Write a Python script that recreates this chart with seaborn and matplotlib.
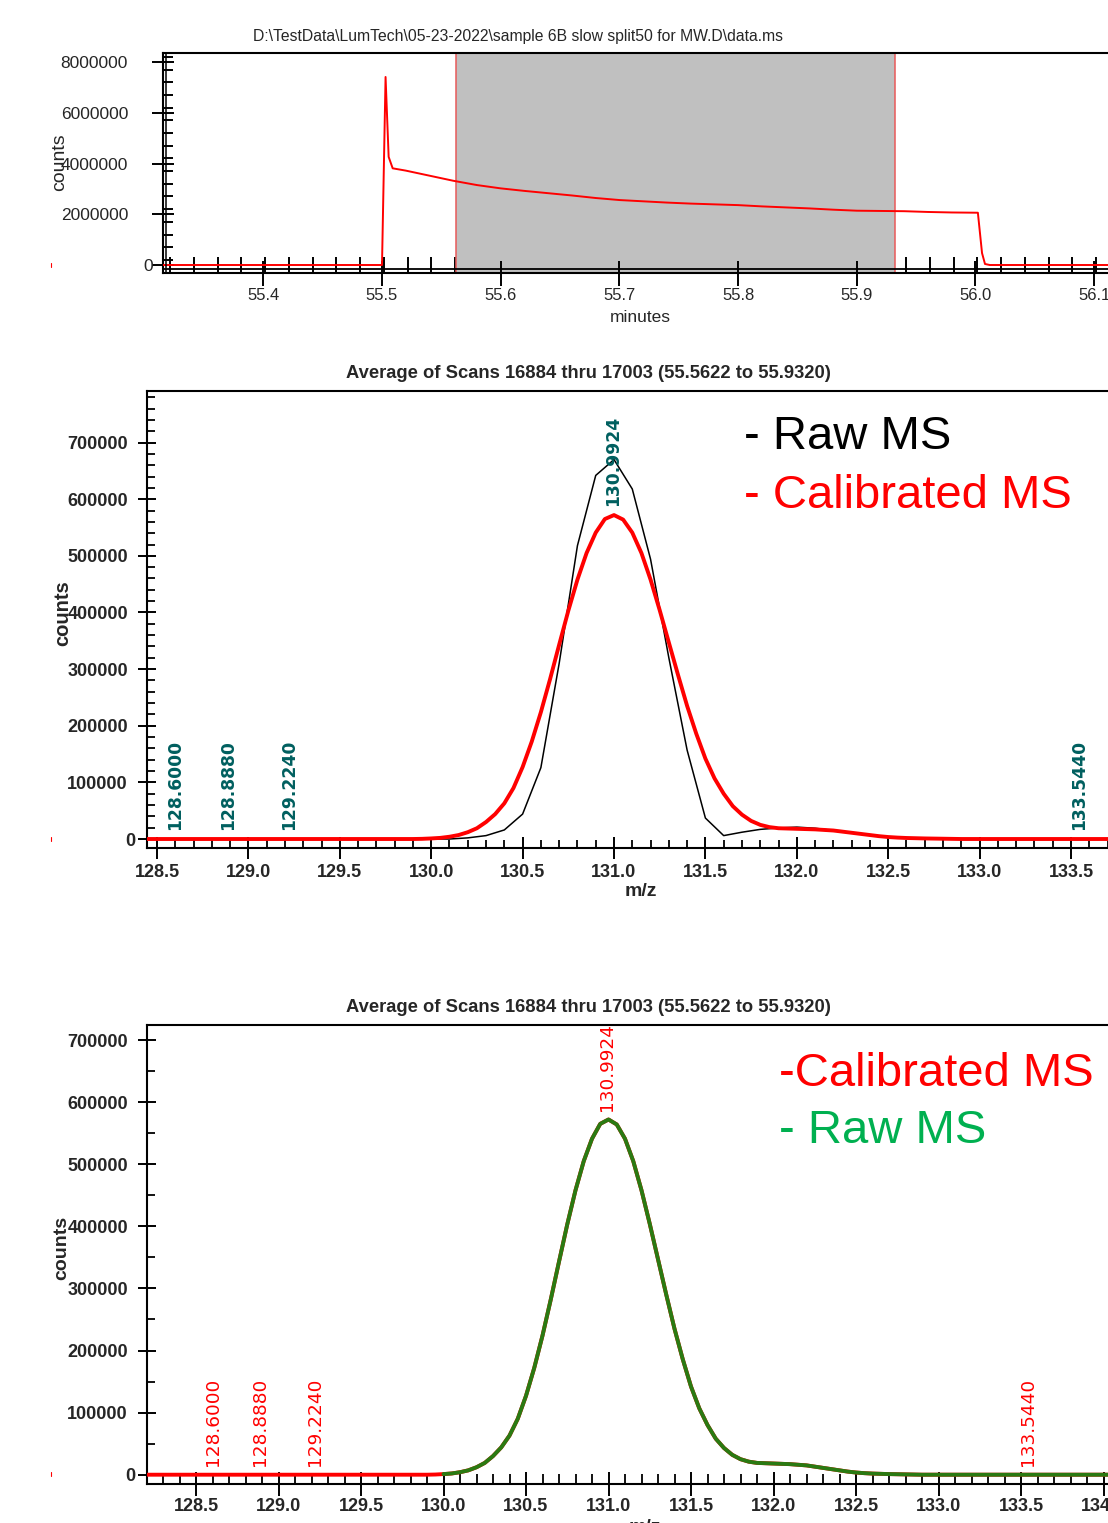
import matplotlib
matplotlib.use("Agg")
import numpy as np
import pandas as pd
import matplotlib.pyplot as plt
import seaborn as sns
from matplotlib.ticker import FixedLocator, MultipleLocator
from matplotlib.lines import Line2D
from matplotlib.transforms import ScaledTranslation

# ---- data ----
tic_title = r"D:\TestData\LumTech\05-23-2022\sample 6B slow split50 for MW.D\data.ms"
scan_title = "Average of Scans 16884 thru 17003 (55.5622 to 55.9320)"
scan_start, scan_end = 55.5622, 55.9320

# total ion chromatogram (minutes, counts)
tic_time = [55.30, 55.500, 55.503, 55.5056, 55.509, 55.52, 55.54, 55.56, 55.58, 55.60,
            55.62, 55.64, 55.66, 55.68, 55.70, 55.72, 55.74, 55.76, 55.78, 55.80,
            55.82, 55.84, 55.86, 55.88, 55.90, 55.92, 55.94, 55.96, 55.98, 56.002,
            56.0055, 56.008, 56.012, 56.13]
tic_counts = [0, 0, 7.41e6, 4.26e6, 3.81e6, 3.72e6, 3.52e6, 3.32e6, 3.15e6, 3.02e6,
              2.92e6, 2.83e6, 2.74e6, 2.64e6, 2.56e6, 2.51e6, 2.46e6, 2.42e6, 2.39e6, 2.36e6,
              2.31e6, 2.27e6, 2.23e6, 2.18e6, 2.14e6, 2.13e6, 2.12e6, 2.09e6, 2.07e6, 2.06e6,
              0.47e6, 0.04e6, 0, 0]
time_ticks = [55.4, 55.5, 55.6, 55.7, 55.8, 55.9, 56.0, 56.1]
time_labels = ["55.4", "55.5", "55.6", "55.7", "55.8", "55.9", "56.0", "56.1"]
tic_ticks = [0, 2e6, 4e6, 6e6, 8e6]
tic_labels = ["0", "2000000", "4000000", "6000000", "8000000"]

# raw spectrum (m/z, counts)
raw_mz = [128.4, 130.1, 130.2, 130.3, 130.4, 130.5, 130.6, 130.7, 130.8, 130.9,
          131.0, 131.1, 131.2, 131.3, 131.4, 131.5, 131.6, 131.7, 131.8, 131.9,
          132.0, 132.1, 132.2, 132.3, 132.4, 132.5, 132.6, 132.7, 132.8, 133.8]
raw_counts = [0, 0, 2000, 6000, 16000, 44000, 126000, 310000, 518000, 642000,
              670000, 618000, 494000, 320000, 157000, 37000, 6000, 12000, 17000, 19500,
              21000, 19000, 15000, 11000, 7000, 3500, 1800, 1000, 500, 0]

# calibrated spectrum (m/z, counts)
cal_mz = [128.2, 129.90, 129.95, 130.00, 130.05, 130.10, 130.15, 130.20, 130.25, 130.30,
          130.35, 130.40, 130.45, 130.50, 130.55, 130.60, 130.65, 130.70, 130.75, 130.80,
          130.85, 130.90, 130.95, 131.00, 131.05, 131.10, 131.15, 131.20, 131.25, 131.30,
          131.35, 131.40, 131.45, 131.50, 131.55, 131.60, 131.65, 131.70, 131.75, 131.80,
          131.85, 131.90, 131.95, 132.00, 132.05, 132.10, 132.15, 132.20, 132.25, 132.30,
          132.35, 132.40, 132.45, 132.50, 132.55, 132.60, 132.70, 132.80, 132.90, 134.2]
cal_counts = [0, 0, 300, 1000, 2000, 4000, 7000, 12000, 19000, 30000,
              44000, 63000, 90000, 127000, 172000, 224000, 282000, 343000, 403000, 458000,
              505000, 541000, 565000, 572000, 564000, 541000, 505000, 458000, 404000, 347000,
              290000, 235000, 186000, 142000, 107000, 80000, 58000, 43000, 32000, 25000,
              21000, 19000, 18500, 18000, 17500, 17000, 16000, 15000, 13000, 11000,
              9000, 7000, 5000, 3500, 2500, 1800, 1000, 500, 0, 0]
green_start = 130.0

peak_mz = [128.6000, 128.8880, 129.2240, 130.9924, 133.5440]
peak_counts = [0, 0, 0, 572000, 0]
peak_labels = ["128.6000", "128.8880", "129.2240", "130.9924", "133.5440"]

ms_ticks = [128.5, 129.0, 129.5, 130.0, 130.5, 131.0, 131.5, 132.0, 132.5, 133.0, 133.5]
ms_labels = ["128.5", "129.0", "129.5", "130.0", "130.5", "131.0", "131.5", "132.0",
             "132.5", "133.0", "133.5"]
ms_ticks3 = ms_ticks + [134.0]
ms_labels3 = ms_labels + ["134.0"]
cnt_ticks = [0, 100000, 200000, 300000, 400000, 500000, 600000, 700000]
cnt_labels = ["0", "100000", "200000", "300000", "400000", "500000", "600000", "700000"]

# ---- styling ----
sns.set_theme(style="ticks")
plt.rcParams["font.family"] = ["Liberation Sans", "DejaVu Sans"]
ARIAL = ["Liberation Sans", "DejaVu Sans"]
TEAL = "#005f5f"
W, H = 1108, 1523
PT = 72 / 100  # points per pixel at dpi 100

fig = plt.figure(figsize=(W / 100, H / 100), dpi=100)
fig.patch.set_facecolor("white")


def place(left, top, right, bottom):
    ax = fig.add_axes([left / W, 1 - bottom / H, (right - left) / W, (bottom - top) / H])
    ax.set_facecolor("white")
    for s in ["left", "bottom", "top"]:
        ax.spines[s].set_color("black")
        ax.spines[s].set_linewidth(1.5)
    ax.spines["right"].set_visible(False)
    return ax


def nudge_zero(ax, dx_px):
    lab = ax.get_yticklabels()[0]
    lab.set_transform(lab.get_transform() + ScaledTranslation(dx_px / 100, 0, fig.dpi_scale_trans))


# ---------- panel 1 : TIC ----------
ax1 = place(163, 53, 1110, 273)
ax1.set_xlim(55.5 + (163 - 382) / 1187, 55.5 + (1110 - 382) / 1187)
ax1.set_ylim((265 - 273) / 25.375 * 1e6, (265 - 53) / 25.375 * 1e6)
ax1.axvspan(scan_start, scan_end, color="#c0c0c0", lw=0, zorder=0)
ax1.axvline(scan_start, color="#e85a5a", lw=1.1, zorder=1)
ax1.axvline(scan_end, color="#e85a5a", lw=1.1, zorder=1)
sns.lineplot(x=tic_time, y=tic_counts, color="red", lw=1.4, ax=ax1, zorder=3)
ax1.axhline((265 - 269) / 25.375 * 1e6, color="black", lw=1.3, zorder=4)
ax1.axvline(55.5 + (166.5 - 382) / 1187, color="black", lw=1.1, zorder=4)

ax1.set_xticks(time_ticks, labels=time_labels, fontsize=12)
ax1.set_yticks(tic_ticks, labels=tic_labels, fontsize=12.5)
minor_t = [t for t in np.arange(55.3015, 56.12, 0.02) if not (scan_start <= t <= scan_end)]
ax1.xaxis.set_minor_locator(FixedLocator(minor_t))
ax1.yaxis.set_minor_locator(FixedLocator(np.arange(0.2e6, 8.3e6, 0.5e6)))
ax1.tick_params(axis="x", which="major", direction="inout", length=25 * PT, width=1.4,
                pad=3 * PT, color="black", bottom=True)
ax1.tick_params(axis="x", which="minor", direction="in", length=16 * PT, width=1.4,
                color="black", bottom=True)
ax1.tick_params(axis="y", which="major", direction="inout", length=22 * PT, width=1.4,
                pad=24 * PT, color="black", left=True)
ax1.tick_params(axis="y", which="minor", direction="in", length=10 * PT, width=1.4,
                color="black", left=True)
ax1.set_xlabel("")
ax1.set_ylabel("")
nudge_zero(ax1, 25)

fig.text(518 / W, 1 - 36 / H, tic_title, ha="center", va="center", fontsize=11.3)
fig.text(60 / W, 1 - 162 / H, "counts", rotation=90, ha="center", va="center", fontsize=14)
fig.text(640 / W, 1 - 317 / H, "minutes", ha="center", va="center", fontsize=12.5)


# ---------- panel 2 : raw vs calibrated ----------
ax2 = place(147, 391, 1110, 848)
ax2.set_xlim(128.5 + (147 - 157) / 182.8, 128.5 + (1110 - 157) / 182.8)
ax2.set_ylim((839.3 - 848.3) / 0.0005667, (839.3 - 391) / 0.0005667)
sns.lineplot(x=raw_mz, y=raw_counts, color="black", lw=1.1, ax=ax2, zorder=3)
sns.lineplot(x=cal_mz, y=cal_counts, color="red", lw=2.8, ax=ax2, zorder=4)
for xm, ym, lab in zip(peak_mz, peak_counts, peak_labels):
    ax2.annotate(lab, xy=(xm, ym), xytext=(0, 6.5), textcoords="offset points", rotation=90,
                 ha="center", va="bottom", color=TEAL, fontsize=12.3, fontweight="bold",
                 family="DejaVu Sans", zorder=5)

ax2.set_xticks(ms_ticks, labels=ms_labels, fontsize=13, fontweight="bold", family=ARIAL)
ax2.set_yticks(cnt_ticks, labels=cnt_labels, fontsize=13, fontweight="bold", family=ARIAL)
ax2.xaxis.set_minor_locator(MultipleLocator(0.1))
ax2.yaxis.set_minor_locator(MultipleLocator(20000))
ax2.tick_params(axis="x", which="major", direction="inout", length=22 * PT, width=1.4,
                pad=5 * PT, color="black", bottom=True)
ax2.tick_params(axis="x", which="minor", direction="in", length=8 * PT, width=1.3,
                color="black", bottom=True)
ax2.tick_params(axis="y", which="major", direction="inout", length=18 * PT, width=1.4,
                pad=10 * PT, color="black", left=True)
ax2.tick_params(axis="y", which="minor", direction="in", length=8 * PT, width=1.3,
                color="black", left=True)
ax2.set_xlabel("")
ax2.set_ylabel("")
nudge_zero(ax2, 7)

fig.text(588 / W, 1 - 374 / H, scan_title, ha="center", va="center", fontsize=13.2,
         fontweight="bold")
fig.text(63 / W, 1 - 613 / H, "counts", rotation=90, ha="center", va="center",
         fontsize=14.5, fontweight="bold")
fig.text(641 / W, 1 - 892 / H, "m/z", ha="center", va="center", fontsize=14, fontweight="bold")
fig.text(744 / W, 1 - 449 / H, "- Raw MS", ha="left", va="baseline", fontsize=34, color="black")
fig.text(744 / W, 1 - 508 / H, "- Calibrated MS", ha="left", va="baseline", fontsize=34,
         color="red")


# ---------- panel 3 : calibrated vs raw overlay ----------
ax3 = place(147, 1025, 1110, 1484)
ax3.set_xlim(128.5 + (147 - 196) / 165, 128.5 + (1110 - 196) / 165)
ax3.set_ylim((1475 - 1484.3) / 0.0006214, (1475 - 1025) / 0.0006214)
green = pd.DataFrame({"mz": cal_mz, "counts": cal_counts})
green = green[green["mz"] >= green_start]
sns.lineplot(x=cal_mz, y=cal_counts, color="red", lw=2.8, ax=ax3, zorder=3)
sns.lineplot(data=green, x="mz", y="counts", color="#2a7a12", lw=2.8, ax=ax3, zorder=4)
for xm, ym, lab in zip(peak_mz, peak_counts, peak_labels):
    ax3.annotate(lab, xy=(xm, ym), xytext=(0, 6), textcoords="offset points", rotation=90,
                 ha="center", va="bottom", color="red", fontsize=13.3,
                 family="DejaVu Sans", zorder=5)

ax3.set_xticks(ms_ticks3, labels=ms_labels3, fontsize=13, fontweight="bold", family=ARIAL)
ax3.set_yticks(cnt_ticks, labels=cnt_labels, fontsize=13, fontweight="bold", family=ARIAL)
ax3.xaxis.set_minor_locator(MultipleLocator(0.1))
ax3.yaxis.set_minor_locator(MultipleLocator(50000))
ax3.tick_params(axis="x", which="major", direction="inout", length=24 * PT, width=1.4,
                pad=2 * PT, color="black", bottom=True)
ax3.tick_params(axis="x", which="minor", direction="in", length=10 * PT, width=1.3,
                color="black", bottom=True)
ax3.tick_params(axis="y", which="major", direction="inout", length=18 * PT, width=1.4,
                pad=10 * PT, color="black", left=True)
ax3.tick_params(axis="y", which="minor", direction="in", length=8 * PT, width=1.3,
                color="black", left=True)
ax3.set_xlabel("")
ax3.set_ylabel("")
nudge_zero(ax3, 7)

fig.text(588 / W, 1 - 1008 / H, scan_title, ha="center", va="center", fontsize=13.2,
         fontweight="bold")
fig.text(62 / W, 1 - 1248 / H, "counts", rotation=90, ha="center", va="center",
         fontsize=14, fontweight="bold")
fig.text(645 / W, 1 - 1519 / H, "m/z", ha="center", va="top", fontsize=14, fontweight="bold")
fig.text(779 / W, 1 - 1086 / H, "-Calibrated MS", ha="left", va="baseline", fontsize=34,
         color="red")
fig.text(779 / W, 1 - 1143 / H, "- Raw MS", ha="left", va="baseline", fontsize=34,
         color="#00b050")

# tiny red marks at the left margin
for ymark in [265, 839, 1474]:
    fig.add_artist(Line2D([51 / W, 51 / W], [1 - (ymark - 2) / H, 1 - (ymark + 2) / H],
                          color="red", lw=0.8))

fig.savefig("out.png", dpi=100, facecolor="white")
